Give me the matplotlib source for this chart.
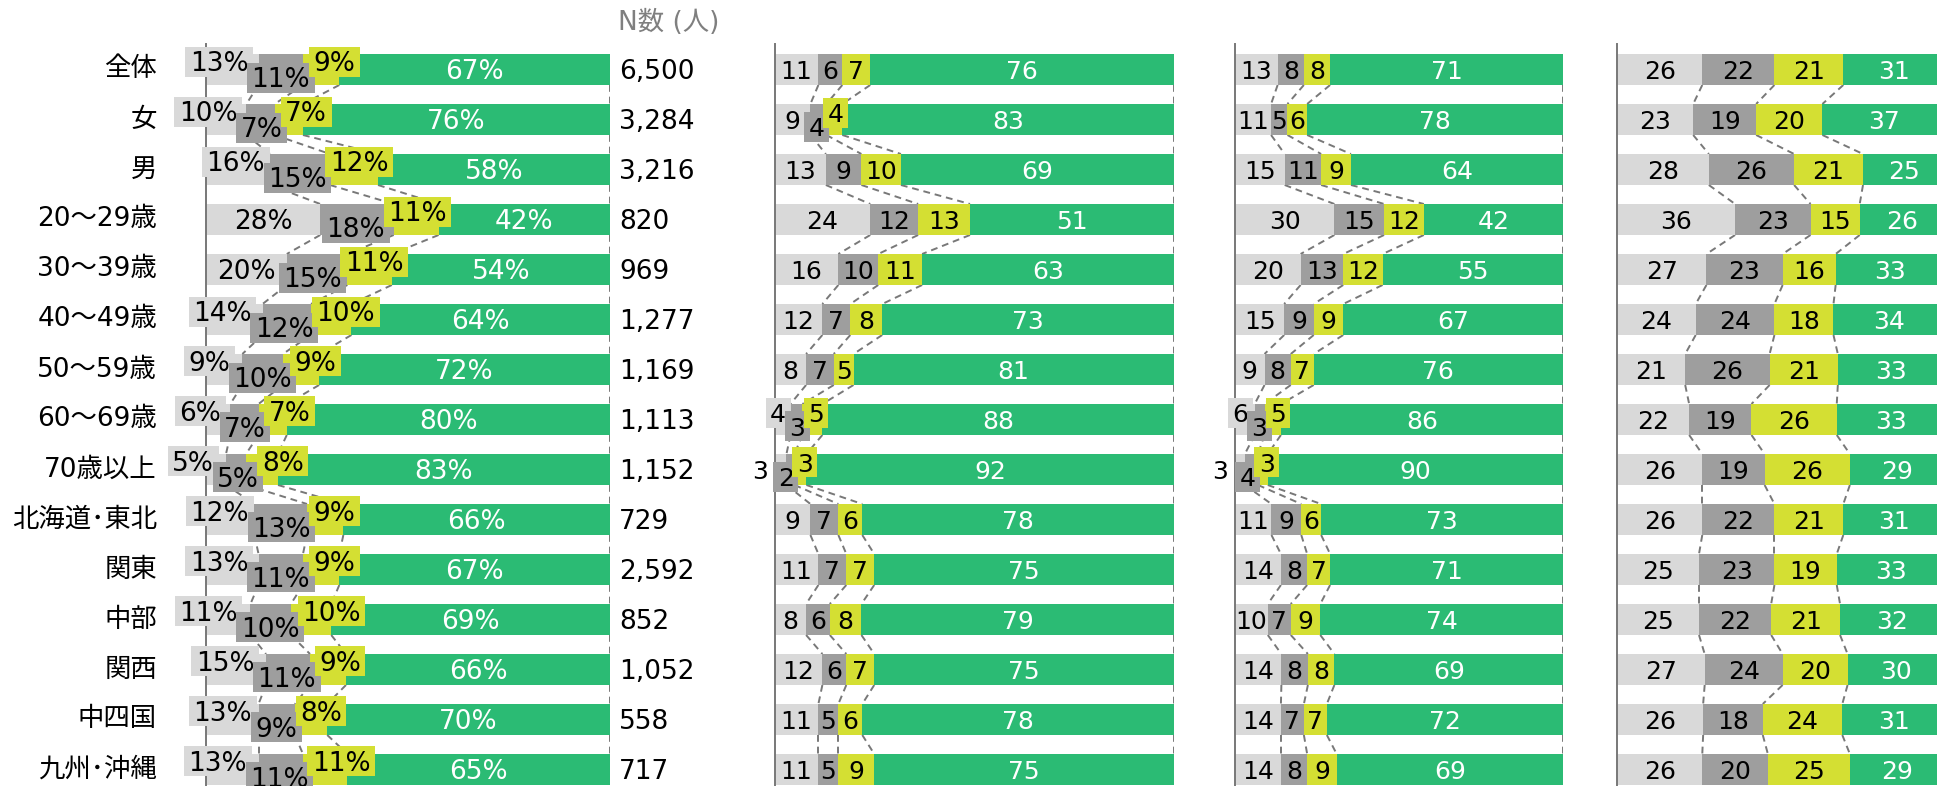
import matplotlib
matplotlib.use('Agg')
import matplotlib.pyplot as plt
from matplotlib.patches import Rectangle
import numpy as np

plt.rcParams['font.family'] = ['DejaVu Sans', 'Noto Sans CJK JP']

# ---------------- data ----------------
categories = ['全体', '女', '男', '20～29歳', '30～39歳', '40～49歳', '50～59歳',
              '60～69歳', '70歳以上', '北海道･東北', '関東', '中部', '関西', '中四国', '九州･沖縄']
n_counts = [6500, 3284, 3216, 820, 969, 1277, 1169, 1113, 1152, 729, 2592, 852, 1052, 558, 717]
n_header = 'N数 (人)'

p1_light = [13, 10, 16, 28, 20, 14, 9, 6, 5, 12, 13, 11, 15, 13, 13]
p1_dark = [11, 7, 15, 18, 15, 12, 10, 7, 5, 13, 11, 10, 11, 9, 11]
p1_yellow = [9, 7, 12, 11, 11, 10, 9, 7, 8, 9, 9, 10, 9, 8, 11]
p1_green = [67, 76, 58, 42, 54, 64, 72, 80, 83, 66, 67, 69, 66, 70, 65]

p2_light = [11, 9, 13, 24, 16, 12, 8, 4, 3, 9, 11, 8, 12, 11, 11]
p2_dark = [6, 4, 9, 12, 10, 7, 7, 3, 2, 7, 7, 6, 6, 5, 5]
p2_yellow = [7, 4, 10, 13, 11, 8, 5, 5, 3, 6, 7, 8, 7, 6, 9]
p2_green = [76, 83, 69, 51, 63, 73, 81, 88, 92, 78, 75, 79, 75, 78, 75]

p3_light = [13, 11, 15, 30, 20, 15, 9, 6, 3, 11, 14, 10, 14, 14, 14]
p3_dark = [8, 5, 11, 15, 13, 9, 8, 3, 4, 9, 8, 7, 8, 7, 8]
p3_yellow = [8, 6, 9, 12, 12, 9, 7, 5, 3, 6, 7, 9, 8, 7, 9]
p3_green = [71, 78, 64, 42, 55, 67, 76, 86, 90, 73, 71, 74, 69, 72, 69]

p4_light = [26, 23, 28, 36, 27, 24, 21, 22, 26, 26, 25, 25, 27, 26, 26]
p4_dark = [22, 19, 26, 23, 23, 24, 26, 19, 19, 22, 23, 22, 24, 18, 20]
p4_yellow = [21, 20, 21, 15, 16, 18, 21, 26, 26, 21, 19, 21, 20, 24, 25]
p4_green = [31, 37, 25, 26, 33, 34, 33, 33, 29, 31, 33, 32, 30, 31, 29]

panels = [
    (p1_light, p1_dark, p1_yellow, p1_green),
    (p2_light, p2_dark, p2_yellow, p2_green),
    (p3_light, p3_dark, p3_yellow, p3_green),
    (p4_light, p4_dark, p4_yellow, p4_green),
]

# ---------------- layout / style ----------------
FW, FH = 1937, 786
DPI = 100
TOP = 44.0
ROW0 = 69.5
PITCH = 50.0
BAR_H = 0.62
PANEL_X = [(206.0, 404.0), (774.5, 399.0), (1235.0, 328.0), (1617.0, 328.0)]
PCT = [True, False, False, False]
COLORS = ['#D9D9D9', '#9E9E9E', '#D4DF33', '#2BBB74']
LINE_GRAY = '#787878'
FS_P1 = 19.0
FS_NUM = 18.0
FS_CAT = 19.0

fig = plt.figure(figsize=(FW / DPI, FH / DPI), dpi=DPI)
renderer = fig.canvas.get_renderer()


def measure(s, fs):
    t = fig.text(0, 0, s, fontsize=fs)
    w = t.get_window_extent(renderer).width
    t.remove()
    return w


def fx(px):
    return px / FW


def fy(py):
    return 1 - py / FH


n_rows = len(categories)
ylim_top = (TOP - ROW0) / PITCH
ylim_bot = (FH - ROW0) / PITCH

for p, (vals, (x0, w), pct) in enumerate(zip(panels, PANEL_X, PCT)):
    ax = fig.add_axes([fx(x0), 0, fx(w), (FH - TOP) / FH])
    ax.set_xlim(0, 100)
    ax.set_ylim(ylim_bot, ylim_top)
    for s in ['top', 'right', 'bottom']:
        ax.spines[s].set_visible(False)
    ax.spines['left'].set_color(LINE_GRAY)
    ax.spines['left'].set_linewidth(1.4)
    ax.set_xticks([])
    ax.set_yticks([])
    ax.patch.set_alpha(0)

    raw = np.array(vals, dtype=float).T          # rows x 4
    lens = raw / raw.sum(axis=1, keepdims=True) * 100
    edges = np.hstack([np.zeros((n_rows, 1)), np.cumsum(lens, axis=1)])
    ys = np.arange(n_rows)

    for k in range(4):
        ax.barh(ys, lens[:, k], left=edges[:, k], height=BAR_H,
                color=COLORS[k], linewidth=0, zorder=2)

    # dashed connectors between rows
    for i in range(n_rows - 1):
        for e in range(1, 5):
            ax.plot([edges[i, e], edges[i + 1, e]],
                    [i + BAR_H / 2, i + 1 - BAR_H / 2],
                    linestyle=(0, (3.5, 2.5)), color=LINE_GRAY, lw=1.4, zorder=1)

    fs = FS_P1 if pct else FS_NUM
    em = fs * DPI / 72.0
    pxu = w / 100.0
    base_off = 0.3645 * em / PITCH       # baseline shift so digits are centred
    dy = (8.0 if pct else 7.0) / PITCH
    box_h = 30.0 / PITCH
    padx = 4.5
    ov = 6.0

    for i in range(n_rows):
        texts = [f'{int(v)}%' if pct else f'{int(v)}' for v in raw[i]]
        tws = [measure(t, fs) for t in texts]
        seg = [lens[i, k] * pxu for k in range(4)]
        cen = [(edges[i, k] + edges[i, k + 1]) / 2 * pxu for k in range(4)]

        outside = [k == 0 and seg[k] < 13 for k in range(3)]
        fits = [tws[k] <= seg[k] - 0.6 for k in range(3)]
        crowded = any((not fits[k]) and (not outside[k]) for k in range(3))
        comfortable = [seg[k] - tws[k] >= 18 for k in range(3)]
        stagger = [crowded and (not comfortable[k]) and (not outside[k]) for k in range(3)]
        bw = [tws[k] + 2 * padx for k in range(3)]

        xs = list(cen[:3])
        movable = stagger[:]
        active = [not outside[k] for k in range(3)]
        pairs = [(0, 1, ov), (1, 2, ov), (0, 2, 0.0)]
        for _ in range(200):
            for a, b, o in pairs:
                if not (active[a] and active[b]):
                    continue
                if not (movable[a] or movable[b]):
                    continue
                need = (bw[a] + bw[b]) / 2 - o
                v = need - (xs[b] - xs[a])
                if v > 0.01:
                    if movable[a] and movable[b]:
                        xs[a] -= v / 2
                        xs[b] += v / 2
                    elif movable[a]:
                        xs[a] -= v
                    else:
                        xs[b] += v

        for k in range(3):
            if outside[k]:
                ax.text(-7.0 / pxu, i + base_off, texts[k], fontsize=fs, color='black',
                        ha='right', va='baseline', zorder=8, clip_on=False)
                continue
            yc = i
            if stagger[k]:
                yc = i - dy if k in (0, 2) else i + dy
                ax.add_patch(Rectangle((xs[k] / pxu - bw[k] / 2 / pxu, yc - box_h / 2),
                                       bw[k] / pxu, box_h, facecolor=COLORS[k],
                                       edgecolor='none', zorder=5 + k, clip_on=False))
            ax.text(xs[k] / pxu, yc + base_off, texts[k], fontsize=fs, color='black',
                    ha='center', va='baseline', zorder=5.5 + k, clip_on=False)

        green_txt = f'{int(raw[i, 3])}%' if pct else f'{int(raw[i, 3])}'
        ax.text(cen[3] / pxu, i + base_off, green_txt,
                fontsize=fs, color='white', ha='center', va='baseline', zorder=9)

# row labels
for i, c in enumerate(categories):
    fig.text(fx(157), fy(ROW0 + PITCH * i), c, fontsize=FS_CAT, ha='right', va='center',
             color='black')

# N column
em_n = FS_P1 * DPI / 72.0
for i, n in enumerate(n_counts):
    fig.text(fx(619), fy(ROW0 + PITCH * i + 0.3645 * em_n), f'{n:,}', fontsize=FS_P1,
             ha='left', va='baseline', color='black')
fig.text(fx(618), fy(23), n_header, fontsize=FS_P1, ha='left', va='center', color='#7F7F7F')

fig.savefig('out.png', dpi=DPI)
